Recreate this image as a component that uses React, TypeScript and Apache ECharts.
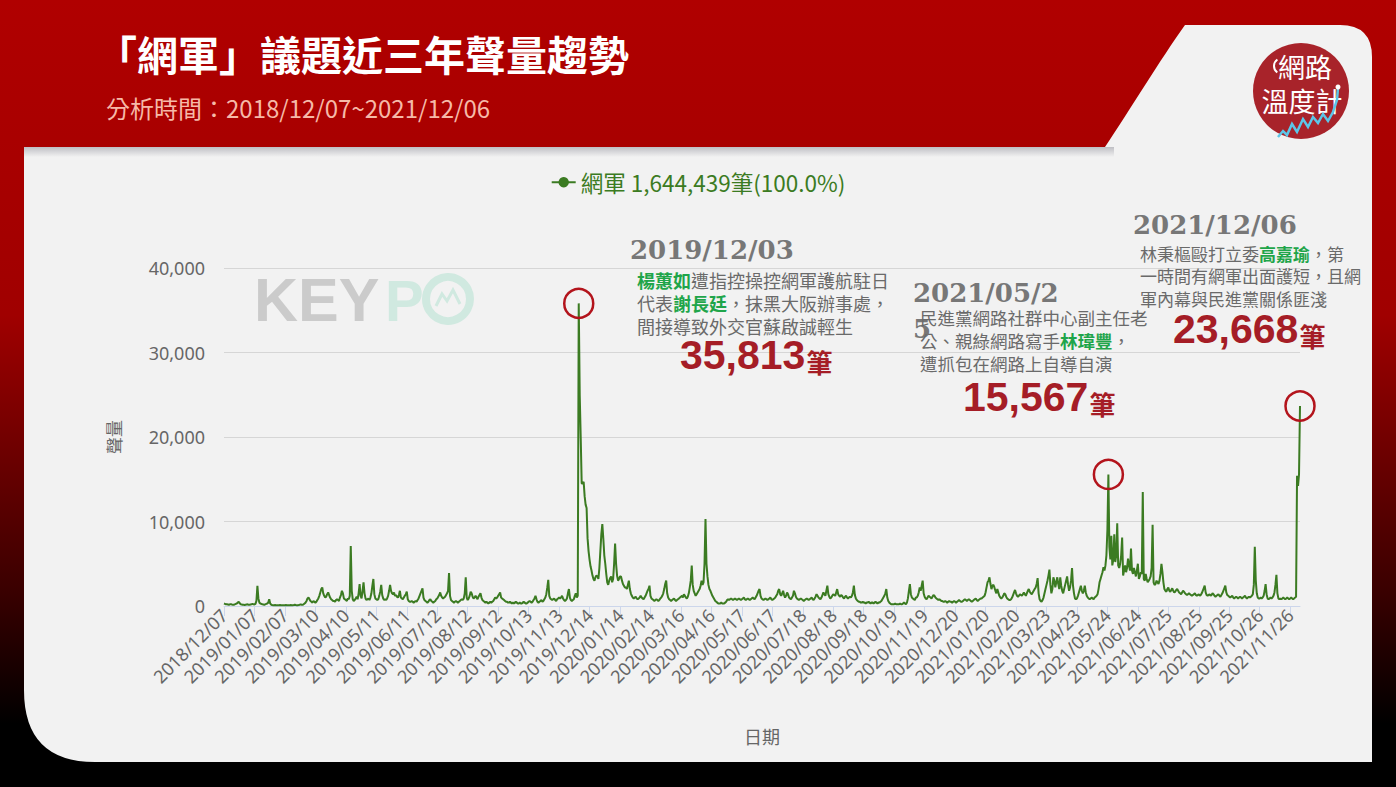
import React, { useEffect, useRef } from "react";
import * as echarts from "echarts";

const START_DATE = "2018/12/07";
const SERIES_NAME = "網軍";
const LEGEND_SUFFIX = " 1,644,439筆(100.0%)";
const TITLE = "「網軍」議題近三年聲量趨勢";
const SUBTITLE = "分析時間：2018/12/07~2021/12/06";
const Y_NAME = "聲量";
const X_NAME = "日期";

// daily volume 2018/12/07 – 2019/12/06 (365 days)
const volumes2019: number[] = [
  300, 250, 200, 200, 180, 150, 200, 220, 180, 150,
  150, 200, 250, 300, 400, 500, 350, 200, 180, 150,
  150, 120, 150, 180, 200, 150, 150, 180, 200, 250,
  200, 180, 250, 600, 2400, 900, 400, 300, 250, 200,
  180, 150, 200, 250, 300, 400, 800, 300, 150, 120,
  100, 100, 120, 100, 80, 100, 100, 120, 100, 100,
  80, 100, 100, 120, 100, 100, 80, 100, 120, 100,
  100, 120, 150, 120, 100, 100, 120, 150, 200, 150,
  150, 200, 300, 400, 600, 900, 1000, 800, 600, 500,
  400, 600, 500, 400, 500, 700, 900, 1200, 1600, 2000,
  2200, 1500, 1200, 1000, 1100, 1400, 1600, 1300, 1000, 800,
  700, 600, 600, 500, 700, 800, 700, 600, 1000, 1300,
  1800, 1500, 900, 800, 700, 600, 900, 800, 1200, 7100,
  1800, 800, 600, 700, 900, 1100, 800, 1500, 2600, 1200,
  900, 1800, 2800, 1500, 900, 700, 800, 900, 700, 1000,
  1500, 2400, 3200, 1400, 900, 800, 700, 800, 1200, 1700,
  2500, 1300, 900, 700, 800, 700, 900, 1200, 1800, 2500,
  1800, 1500, 1400, 1600, 1200, 1300, 1100, 1000, 1300, 1800,
  1000, 900, 800, 1000, 1200, 1400, 1700, 800, 600, 500,
  500, 600, 500, 400, 500, 600, 500, 700, 900, 1200,
  1500, 1800, 2100, 1000, 700, 600, 500, 400, 500, 700,
  800, 600, 500, 400, 500, 600, 800, 900, 1100, 1300,
  1600, 1200, 1000, 900, 1000, 1100, 1300, 1500, 1800, 3900,
  1200, 700, 600, 500, 400, 500, 600, 500, 400, 500,
  600, 700, 800, 700, 900, 1500, 3400, 1000, 700, 900,
  1200, 1700, 1500, 1100, 900, 1000, 1200, 1000, 800, 1100,
  1300, 1500, 1000, 700, 600, 500, 400, 500, 400, 300,
  400, 500, 400, 500, 600, 800, 1000, 900, 1000, 1200,
  1400, 1600, 1000, 900, 800, 700, 600, 500, 500, 400,
  400, 500, 400, 300, 400, 300, 400, 500, 400, 300,
  300, 400, 300, 300, 400, 500, 400, 300, 300, 400,
  500, 600, 500, 400, 500, 700, 900, 1200, 800, 500,
  400, 500, 600, 700, 500, 600, 800, 1000, 1400, 2200,
  3100, 1200, 900, 800, 700, 800, 900, 700, 600, 800,
  900, 1000, 900, 1000, 1200, 900, 700, 600, 700, 900,
  1500, 2000, 1000, 700, 600, 700, 800, 1200, 1500, 1000,
  1200, 35813, 25000, 20000, 14500,
];

// daily volume 2019/12/07 – 2020/12/06 (366 days)
const volumes2020: number[] = [
  14500, 14700, 13000, 12000, 11600, 8000, 6500, 5500, 4700, 4200,
  3600, 3200, 3000, 3400, 3600, 3500, 3200, 4500, 6500, 8500,
  9700, 8000, 6000, 5000, 3800, 2800, 2500, 3000, 3300, 3500,
  2800, 3200, 5000, 7400, 5000, 3600, 3000, 3200, 3500, 3500,
  3000, 2600, 2400, 2200, 2200, 2000, 2500, 3000, 2000, 1500,
  1200, 1000, 900, 1000, 1100, 900, 800, 900, 1000, 1200,
  1000, 900, 800, 1000, 1200, 1500, 1800, 2000, 2400, 1200,
  900, 800, 700, 600, 700, 800, 700, 600, 700, 900,
  1000, 1200, 1500, 2000, 2600, 3000, 1500, 1000, 800, 700,
  600, 700, 800, 900, 700, 600, 700, 800, 900, 1000,
  1100, 1200, 1000, 1400, 1200, 1000, 900, 1100, 1500, 2200,
  3000, 4800, 2500, 1800, 1500, 1200, 1400, 1600, 1800, 2000,
  2400, 3000, 2500, 2800, 5000, 10300, 5000, 3500, 2500, 2000,
  1800, 1500, 1200, 1000, 800, 600, 500, 400, 300, 300,
  300, 400, 300, 300, 300, 400, 500, 700, 800, 700,
  800, 900, 800, 700, 800, 900, 800, 700, 800, 900,
  800, 700, 800, 900, 1000, 800, 700, 800, 900, 800,
  700, 800, 900, 1000, 900, 800, 1000, 1200, 1500, 1800,
  2000, 1200, 900, 800, 700, 800, 900, 800, 700, 800,
  900, 1000, 800, 700, 800, 900, 1000, 1200, 1400, 1800,
  2000, 1400, 1200, 1500, 1800, 1300, 1000, 1200, 1600, 1400,
  1000, 900, 800, 1000, 1200, 1800, 1500, 1100, 900, 800,
  700, 800, 900, 800, 700, 600, 700, 800, 900, 800,
  700, 800, 900, 1000, 800, 700, 900, 1100, 1400, 1200,
  1000, 900, 800, 1000, 1300, 1600, 1400, 1200, 1800, 2400,
  1400, 1100, 900, 1000, 1200, 1400, 1300, 1200, 1600, 2000,
  1400, 1200, 1100, 1300, 1200, 1000, 900, 1100, 1200, 1000,
  900, 1000, 1100, 1000, 1200, 1600, 2400, 1300, 900, 700,
  600, 500, 500, 400, 400, 500, 400, 400, 300, 400,
  400, 500, 400, 300, 400, 400, 300, 400, 500, 400,
  300, 400, 400, 500, 600, 800, 1000, 1200, 1500, 2000,
  1000, 600, 400, 300, 200, 200, 200, 200, 300, 200,
  200, 200, 200, 300, 200, 200, 300, 400, 300, 200,
  400, 900, 1800, 2600, 1400, 1000, 900, 800, 700, 1000,
  1000, 1200, 1600, 2200, 1800, 2400, 3000, 1500, 1100, 900,
  800, 1000, 1200, 1100, 1000, 900, 1100, 1300, 1200, 1000,
  900, 800, 700, 800, 700, 600,
];

// daily volume 2020/12/07 – 2021/12/06 (365 days)
const volumes2021: number[] = [
  600, 500, 500, 600, 500, 400, 500, 600, 500, 500,
  400, 500, 600, 500, 400, 500, 600, 700, 600, 500,
  500, 600, 700, 800, 700, 600, 700, 800, 700, 600,
  500, 600, 700, 800, 900, 700, 600, 700, 800, 900,
  900, 1000, 1100, 1200, 1600, 2200, 2800, 3000, 3400, 2600,
  2000, 2400, 2500, 2200, 1800, 1500, 2000, 1600, 1200, 1000,
  900, 1000, 1200, 1500, 1400, 1100, 900, 800, 700, 700,
  800, 1000, 1300, 1600, 1900, 1500, 1200, 1100, 1200, 1400,
  1300, 1200, 1400, 1600, 1400, 1200, 1500, 1800, 2000, 1700,
  1500, 1400, 1600, 1800, 2000, 2200, 2600, 3300, 1500, 800,
  600, 500, 700, 1000, 1500, 2000, 2500, 3000, 3600, 4300,
  2500, 1500, 2000, 3400, 3000, 2200, 2800, 3400, 2600, 2000,
  3400, 2400, 1800, 1500, 2000, 2500, 3000, 3500, 2500, 1800,
  2200, 3000, 4500, 2400, 1500, 900, 800, 900, 1200, 1600,
  2000, 2400, 1800, 1500, 1800, 2400, 1600, 1200, 1000, 900,
  800, 900, 1000, 900, 800, 1000, 1100, 1200, 1400, 2000,
  2800, 3200, 3600, 4000, 4600, 4200, 4800, 6000, 9000, 15567,
  7000, 5500, 8300, 4800, 5500, 8500, 5200, 6000, 9800, 4800,
  4500, 5000, 6000, 8100, 3600, 4200, 4800, 4000, 4500, 5600,
  4800, 4200, 6800, 4200, 3800, 4500, 4000, 3500, 4200, 5000,
  3200, 3500, 4000, 3800, 13500, 3200, 3000, 3800, 3200, 2800,
  3000, 3200, 3500, 4500, 9600, 2800, 2500, 2600, 3000, 2800,
  2600, 3000, 3800, 5000, 4000, 2800, 2000, 1800, 1700, 2000,
  2200, 1800, 1700, 1900, 2100, 1800, 1600, 1700, 1900, 2000,
  1800, 1600, 1500, 1400, 1600, 1800, 1700, 1500, 1400, 1300,
  1400, 1500, 1400, 1300, 1200, 1300, 1400, 1500, 1300, 1200,
  1300, 1400, 1200, 1300, 1500, 1800, 2100, 2400, 1600, 1300,
  1200, 1300, 1400, 1200, 1300, 1500, 1400, 1200, 1100, 1200,
  1300, 1400, 1200, 1100, 1300, 1500, 1800, 2100, 2400, 1600,
  1300, 1200, 1100, 1000, 1100, 1200, 1000, 900, 1000, 1100,
  1000, 900, 1000, 1100, 1000, 900, 1000, 1100, 1200, 1000,
  900, 1000, 1100, 1000, 1100, 1200, 1400, 2500, 7000, 3000,
  1500, 1000, 900, 900, 1000, 900, 1000, 1200, 1800, 2600,
  1400, 900, 800, 900, 1000, 900, 1000, 1200, 1600, 2500,
  3700, 1500, 900, 800, 900, 800, 900, 1000, 900, 800,
  900, 1000, 900, 800, 900, 1000, 900, 800, 900, 1000,
  1100, 15400, 14200, 15600, 23668,
];

const Y_MAX = 40000;
const Y_INTERVAL = 10000;
const X_LABEL_INTERVAL = 30;

const peakDates = ["2019/12/03", "2021/05/25", "2021/12/06"];
const peakValues = [35813, 15567, 23668];

const GREEN = "#3b7b22";
const NOTE_GRAY = "#6a6a6a";
const NAME_GREEN = "#1fa54a";
const NUM_RED = "#a51d26";
const CJK = "'Noto Sans CJK TC', 'Noto Sans', sans-serif";

function buildDates(start: string, n: number): string[] {
  const [y, m, d] = start.split("/").map(Number);
  const base = Date.UTC(y, m - 1, d);
  const out: string[] = [];
  for (let i = 0; i < n; i++) {
    const dt = new Date(base + i * 86400000);
    out.push(
      `${dt.getUTCFullYear()}/${String(dt.getUTCMonth() + 1).padStart(2, "0")}/${String(dt.getUTCDate()).padStart(2, "0")}`
    );
  }
  return out;
}

let shapesRegistered = false;
function registerShapes() {
  if (shapesRegistered) return;
  shapesRegistered = true;
  echarts.graphic.registerShape(
    "card",
    echarts.graphic.extendPath(
      "M24,147 L1105,147 C1130,110 1160,60 1185,25 L1340,25 Q1372,25 1372,57 L1372,762 L95,762 Q24,762 24,690 Z",
      {}
    )
  );
}

function numberRich() {
  return {
    n: { fontSize: 41, fontWeight: "bold", fontFamily: "'Liberation Sans', Arial, sans-serif", fill: NUM_RED, verticalAlign: "bottom" },
    u: { fontSize: 26, fontWeight: "bold", fontFamily: CJK, fill: NUM_RED, verticalAlign: "bottom", padding: [0, 0, 1, 1] },
  };
}

function noteRich(size: number, lh: number) {
  return {
    g: { fontSize: size, fontWeight: "bold", fontFamily: CJK, fill: NAME_GREEN, lineHeight: lh },
  };
}

export default function App() {
  const ref = useRef<HTMLDivElement>(null);

  useEffect(() => {
    document.body.style.margin = "0";
    registerShapes();
    const chart = echarts.init(ref.current!, null, { renderer: "svg" });
    const values = [...volumes2019, ...volumes2020, ...volumes2021];
    const dates = buildDates(START_DATE, values.length);

    const dateStyle = { fontSize: 26, fontWeight: "bold", fontFamily: "'DejaVu Serif', serif", fill: "#777777", verticalAlign: "middle" };
    const noteStyle = (size: number, lh: number) => ({ fontSize: size, fontFamily: CJK, fill: NOTE_GRAY, lineHeight: lh, verticalAlign: "top" });

    chart.setOption({
      animation: false,
      textStyle: { fontFamily: CJK },
      graphic: [
        {
          type: "rect", z: -100, silent: true,
          shape: { x: 0, y: 0, width: 1396, height: 787 },
          style: {
            fill: new echarts.graphic.LinearGradient(0, 0, 0, 1, [
              { offset: 0, color: "#b00000" },
              { offset: 0.4, color: "#a00000" },
              { offset: 0.75, color: "#3a0000" },
              { offset: 0.92, color: "#000000" },
              { offset: 1, color: "#000000" },
            ]),
          },
        },
        { type: "card", z: -90, silent: true, x: 0, y: 0, style: { fill: "#f2f2f2" } },
        {
          type: "rect", z: -80, silent: true,
          shape: { x: 24, y: 147, width: 1090, height: 10 },
          style: {
            fill: new echarts.graphic.LinearGradient(0, 0, 0, 1, [
              { offset: 0, color: "#bfbfc4" },
              { offset: 1, color: "#f2f2f2" },
            ]),
          },
        },
        {
          type: "text", z: 100, x: 96, y: 53,
          style: { text: TITLE, fill: "#ffffff", fontSize: 41, fontWeight: "bold", fontFamily: CJK, verticalAlign: "middle" },
        },
        {
          type: "text", z: 100, x: 106, y: 107,
          style: { text: SUBTITLE, fill: "#f6b9a8", fontSize: 24, fontFamily: CJK, verticalAlign: "middle" },
        },
        // logo
        { type: "circle", z: 100, shape: { cx: 1301, cy: 91, r: 48 }, style: { fill: "#a8232a" } },
        {
          type: "text", z: 101, x: 1305, y: 66,
          style: { text: "網路", fill: "#ffffff", fontSize: 27, fontFamily: CJK, align: "center", verticalAlign: "middle" },
        },
        {
          type: "text", z: 101, x: 1302, y: 100,
          style: { text: "溫度計", fill: "#ffffff", fontSize: 27, fontFamily: CJK, align: "center", verticalAlign: "middle" },
        },
        {
          type: "arc", z: 101, shape: { cx: 1282, cy: 66, r: 8, startAngle: 2.2, endAngle: 4.1 },
          style: { stroke: "#ffffff", lineWidth: 2, fill: null },
        },
        {
          type: "polyline", z: 101,
          shape: { points: [[1278, 137], [1283, 131], [1287, 135], [1292, 124], [1297, 132], [1303, 119], [1308, 127], [1313, 117], [1318, 123], [1323, 114], [1328, 121], [1333, 112], [1337, 100], [1338, 88]] },
          style: { stroke: "#5cc6e8", lineWidth: 2.5, fill: null },
        },
        { type: "circle", z: 102, shape: { cx: 1338, cy: 87, r: 2.5 }, style: { fill: "#ffffff" } },
        // KEYPO watermark
        {
          type: "text", z: 1, x: 254, y: 300,
          style: { text: "KEY", fill: "#cbcbcb", fontSize: 61, fontWeight: "bold", fontFamily: "'Liberation Sans', Arial, sans-serif", verticalAlign: "middle" },
        },
        {
          type: "text", z: 1, x: 385, y: 300,
          style: { text: "P", fill: "#d0e9e0", fontSize: 58, fontWeight: "bold", fontFamily: "'Liberation Sans', Arial, sans-serif", verticalAlign: "middle" },
        },
        { type: "circle", z: 1, shape: { cx: 448, cy: 299, r: 22 }, style: { fill: null, stroke: "#d0e9e0", lineWidth: 8 } },
        {
          type: "polyline", z: 1,
          shape: { points: [[436, 306], [442, 294], [447, 301], [453, 290], [460, 304]] },
          style: { stroke: "#d0e9e0", lineWidth: 3, fill: null },
        },
        // annotation 2019/12/03
        { type: "text", z: 100, x: 630, y: 250, style: { ...dateStyle, text: "2019/12/03" } },
        {
          type: "text", z: 100, x: 637, y: 268,
          style: { ...noteStyle(18, 23), text: "{g|楊蕙如}遭指控操控網軍護航駐日\n代表{g|謝長廷}，抹黑大阪辦事處，\n間接導致外交官蘇啟誠輕生", rich: noteRich(18, 23) },
        },
        { type: "text", z: 100, x: 680, y: 375, style: { text: "{n|35,813}{u|筆}", rich: numberRich(), verticalAlign: "bottom" } },
        // annotation 2021/05/25
        { type: "text", z: 100, x: 913, y: 293, style: { ...dateStyle, text: "2021/05/2" } },
        { type: "text", z: 100, x: 913, y: 329, style: { ...dateStyle, text: "5" } },
        {
          type: "text", z: 101, x: 920, y: 306,
          style: { ...noteStyle(17.5, 23), text: "民進黨網路社群中心副主任老\n公、親綠網路寫手{g|林瑋豐}，\n遭抓包在網路上自導自演", rich: noteRich(17.5, 23) },
        },
        { type: "text", z: 100, x: 963, y: 417, style: { text: "{n|15,567}{u|筆}", rich: numberRich(), verticalAlign: "bottom" } },
        // annotation 2021/12/06
        { type: "text", z: 100, x: 1133, y: 225, style: { ...dateStyle, text: "2021/12/06" } },
        {
          type: "text", z: 100, x: 1140, y: 242,
          style: { ...noteStyle(17, 22.5), text: "林秉樞毆打立委{g|高嘉瑜}，第\n一時間有網軍出面護短，且網\n軍內幕與民進黨關係匪淺", rich: noteRich(17, 22.5) },
        },
        { type: "text", z: 100, x: 1173, y: 349, style: { text: "{n|23,668}{u|筆}", rich: numberRich(), verticalAlign: "bottom" } },
      ],
      legend: {
        top: 166,
        left: "center",
        itemWidth: 24,
        itemHeight: 13,
        textStyle: { color: GREEN, fontSize: 22.5, fontFamily: CJK },
        formatter: (name: string) => name + LEGEND_SUFFIX,
        data: [SERIES_NAME],
      },
      grid: { left: 224, right: 96, top: 268, bottom: 181, containLabel: false },
      xAxis: {
        type: "category",
        data: dates,
        boundaryGap: false,
        name: X_NAME,
        nameLocation: "middle",
        nameGap: 121,
        nameTextStyle: { color: "#666666", fontSize: 18, fontFamily: CJK },
        axisLine: { lineStyle: { color: "#ccd6eb", width: 1 } },
        axisTick: { show: true, interval: X_LABEL_INTERVAL, length: 10, lineStyle: { color: "#ccd6eb" } },
        axisLabel: { interval: X_LABEL_INTERVAL, rotate: 45, color: "#666666", fontSize: 18, fontFamily: "'Noto Sans', sans-serif", margin: 6 },
        splitLine: { show: false },
      },
      yAxis: {
        type: "value",
        min: 0,
        max: Y_MAX,
        interval: Y_INTERVAL,
        name: Y_NAME,
        nameLocation: "middle",
        nameGap: 102,
        nameTextStyle: { color: "#666666", fontSize: 17, fontFamily: CJK },
        axisLine: { show: false },
        axisTick: { show: false },
        axisLabel: {
          color: "#666666", fontSize: 18, margin: 19, fontFamily: "'Noto Sans', sans-serif",
          formatter: (v: number) => v.toLocaleString("en-US"),
        },
        splitLine: { lineStyle: { color: "#d6d6d6", width: 1 } },
      },
      series: [
        {
          name: SERIES_NAME,
          type: "line",
          data: values,
          symbol: "circle",
          symbolSize: 7,
          showSymbol: false,
          itemStyle: { color: GREEN },
          lineStyle: { color: GREEN, width: 2 },
          markPoint: {
            silent: true,
            symbol: "circle",
            symbolSize: 29,
            label: { show: false },
            itemStyle: { color: "rgba(0,0,0,0)", borderColor: "#b3141c", borderWidth: 2.5 },
            data: peakDates.map((d, i) => ({ coord: [d, peakValues[i]] })),
          },
        },
      ],
    });
    return () => chart.dispose();
  }, []);

  return <div ref={ref} style={{ width: 1396, height: 787 }} />;
}
